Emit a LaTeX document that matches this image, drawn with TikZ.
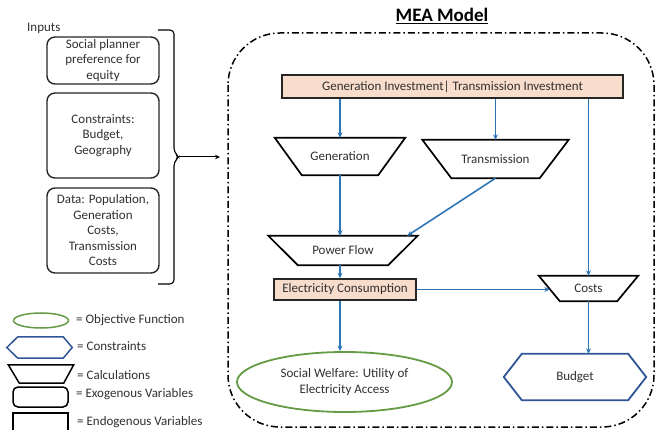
\documentclass[tikz,border=0pt]{standalone}
\usepackage{fontspec}
\setmainfont{Carlito}
\usetikzlibrary{shapes.geometric,calc,arrows.meta}
\definecolor{arrblue}{RGB}{46,117,182}
\definecolor{hexblue}{RGB}{47,85,151}
\definecolor{objgreen}{RGB}{100,155,68}
\definecolor{peach}{RGB}{248,220,204}
\definecolor{txt}{RGB}{48,48,48}
\begin{document}
\begin{tikzpicture}[x=1pt,y=-1pt, font=\fontsize{13}{15.5}\selectfont, text=txt,
 arr/.style={draw=arrblue, line width=1.6pt, -{Stealth[length=5.5pt,width=5pt]}},
 exo/.style={draw=black!85, line width=1.4pt, rounded corners=8pt, minimum width=112pt, align=center, inner sep=0pt},
 endo/.style={draw=black!85, line width=1.4pt, fill=peach, inner sep=0pt},
 calcbox/.style={inner sep=0pt},
 trap/.style={draw=black, line width=1.7pt, line join=miter},
 legtext/.style={anchor=west, inner sep=0pt}
]
\clip (0,0) rectangle (656,430);

% ---------- Inputs ----------
\node[anchor=west, inner sep=0pt] (inputs) at (27,28) {Inputs};
\node[exo, minimum height=47pt] (in1) at (103,60.5) {Social planner\\preference for\\equity};
\node[exo, minimum height=85pt] (in2) at (103,135.5) {Constraints:\\Budget,\\Geography};
\node[exo, minimum height=85pt] (in3) at (103,230.5) {Data: Population,\\Generation\\Costs,\\Transmission\\Costs};

\draw[line width=1.1pt, rounded corners=4pt] (158,30) -- (174,30) -- (174,152) -- (179,157) -- (174,162) -- (174,284) -- (158,284);
\coordinate (bt) at (179,157);
\coordinate (arrend) at (220,157);
\draw[line width=1pt, -{Stealth[length=5pt,width=4.5pt]}] (bt) -- (arrend);

% ---------- MEA box ----------
\node[anchor=base, inner sep=0pt, text=black, font=\fontsize{19}{22}\selectfont\bfseries] (title) at (442,22) {\underline{MEA Model}};
\draw[line width=1.5pt, dash pattern=on 7pt off 3pt on 1.5pt off 3pt, rounded corners=52pt] (228,33) rectangle (654,427);

\node[endo, minimum width=341pt, minimum height=23pt] (inv) at (452.5,86.5) {Generation Investment| Transmission Investment};

\node[calcbox, minimum width=76pt, minimum height=37pt] (gen) at (340,156.5) {Generation};
\draw[trap] ($(gen.north west)+(-27,0)$) -- ($(gen.north east)+(27,0)$) -- (gen.south east) -- (gen.south west) -- cycle;

\node[calcbox, minimum width=88pt, minimum height=38pt] (trans) at (495.5,159) {Transmission};
\draw[trap] ($(trans.north west)+(-29,0)$) -- ($(trans.north east)+(29,0)$) -- (trans.south east) -- (trans.south west) -- cycle;

\node[calcbox, minimum width=90pt, minimum height=29pt] (pf) at (343,250.5) {Power Flow};
\draw[trap] ($(pf.north west)+(-29.5,0)$) -- ($(pf.north east)+(29.5,0)$) -- (pf.south east) -- (pf.south west) -- cycle;
\coordinate (pfin) at ($(pf.north east)+(19,0)$);

\node[endo, minimum width=142pt, minimum height=21pt] (ec) at (345,289.5) {Electricity Consumption};

\node[calcbox, minimum width=57pt, minimum height=25pt] (costs) at (588.5,288.5) {Costs};
\draw[trap] ($(costs.north west)+(-21,0)$) -- ($(costs.north east)+(21,0)$) -- (costs.south east) -- (costs.south west) -- cycle;
\coordinate (cin) at ($(costs.west)+(-10,0)$);

\node[ellipse, draw=objgreen, line width=1.8pt, minimum width=215pt, minimum height=60pt, inner sep=0pt, align=center] (sw) at (344.5,382) {Social Welfare: Utility of\\Electricity Access};

\node[calcbox, minimum width=106pt, minimum height=46pt] (bud) at (575,377) {Budget};
\draw[draw=hexblue, line width=1.8pt] (bud.north west) -- (bud.north east) -- ($(bud.east)+(18,0)$) -- (bud.south east) -- (bud.south west) -- ($(bud.west)+(-18,0)$) -- cycle;

% ---------- connectors ----------
\draw[arr] (gen.north |- inv.south) -- (gen.north);
\draw[arr] (trans.north |- inv.south) -- (trans.north);
\draw[arr] (costs.north |- inv.south) -- (costs.north);
\draw[arr] (gen.south) -- (gen.south |- pf.north);
\draw[arr] (trans.south) -- (pfin);
\draw[arr] (gen.south |- pf.south) -- (gen.south |- ec.north);
\draw[arr] (gen.south |- ec.south) -- (gen.south |- sw.north);
\draw[arr] (ec.east) -- (ec.east -| cin);
\draw[arr] (costs.south) -- (costs.south |- bud.north);

% ---------- legend ----------
\node[ellipse, draw=objgreen, line width=1.5pt, minimum width=55pt, minimum height=15pt, inner sep=0pt] (lobj) at (41,320.5) {};
\node[legtext] (lobjt) at (76,320) {= Objective Function};

\node[calcbox, minimum width=45pt, minimum height=21pt] (lcon) at (40.5,347.5) {};
\draw[draw=hexblue, line width=1.5pt] (lcon.north west) -- (lcon.north east) -- ($(lcon.east)+(9,0)$) -- (lcon.south east) -- (lcon.south west) -- ($(lcon.west)+(-11,0)$) -- cycle;
\node[legtext] (lcont) at (77,346) {= Constraints};

\node[calcbox, minimum width=44pt, minimum height=18pt] (lcal) at (41.5,374) {};
\draw[trap, line width=1.5pt] ($(lcal.north west)+(-11,0)$) -- ($(lcal.north east)+(10,0)$) -- (lcal.south east) -- (lcal.south west) -- cycle;
\node[legtext] (lcalt) at (77,375) {= Calculations};

\node[draw=black, line width=1.5pt, rounded corners=5pt, minimum width=55pt, minimum height=20pt, inner sep=0pt] (lexo) at (40.5,397) {};
\node[legtext] (lexot) at (76,394) {= Exogenous Variables};

\node[draw=black, line width=1.5pt, minimum width=55pt, minimum height=20pt, inner sep=0pt] (lendo) at (40.5,423) {};
\node[legtext] (lendot) at (77,422) {= Endogenous Variables};
\end{tikzpicture}
\end{document}
